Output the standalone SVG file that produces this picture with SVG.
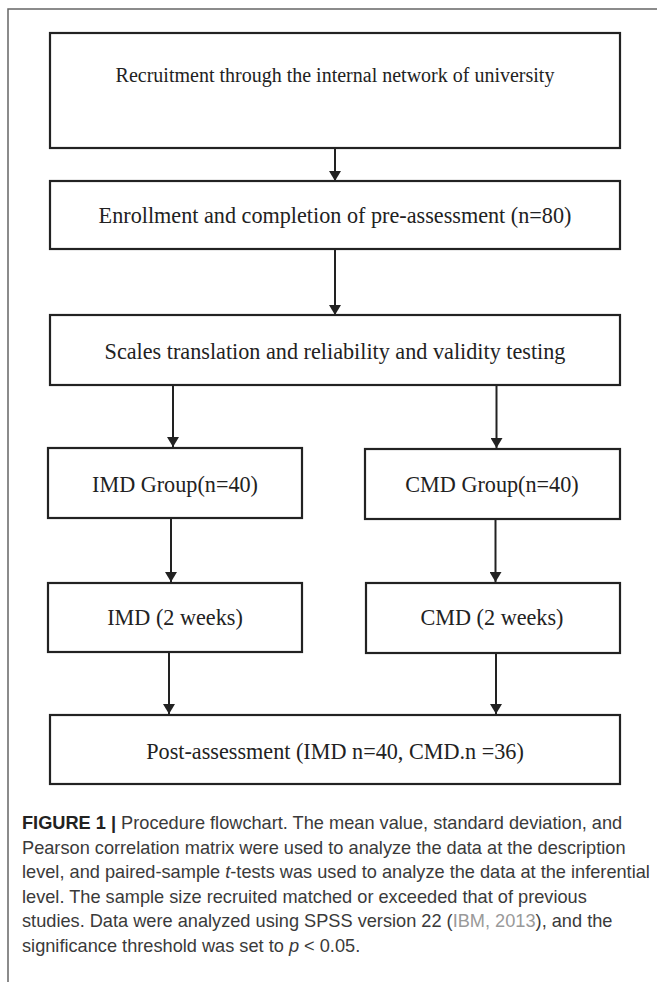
<svg xmlns="http://www.w3.org/2000/svg" width="657" height="982" viewBox="0 0 657 982">
<defs>
<style>
.box{fill:#fff;stroke:#222;stroke-width:2.2}
.lbl{font-family:"Liberation Serif","Times New Roman",serif;font-size:22.2px;fill:#222;text-anchor:middle}
.edge{stroke:#222;stroke-width:2;fill:none;marker-end:url(#ah)}
.cap{font-family:"Liberation Sans",Arial,sans-serif;font-size:18.2px;fill:#3a3a3a}
.frame{stroke:#666;stroke-width:1.5;fill:none}
</style>
<marker id="ah" viewBox="0 0 10 12" refX="10" refY="6" markerWidth="10" markerHeight="12" markerUnits="userSpaceOnUse" orient="auto">
<path d="M0,0 L10,6 L0,12 Z" fill="#222"/>
</marker>
</defs>
<rect width="657" height="982" fill="#fff"/>
<path class="frame" d="M657,9 H8 V982"/>
<g id="recruit"><rect class="box" x="50" y="33" width="570" height="115"/><text class="lbl" x="335" y="82" style="font-size:20px">Recruitment through the internal network of university</text></g>
<g id="enroll"><rect class="box" x="50" y="181" width="570" height="68"/><text class="lbl" x="335" y="223">Enrollment and completion of pre-assessment (n=80)</text></g>
<g id="scales"><rect class="box" x="50" y="315" width="570" height="70"/><text class="lbl" x="335" y="359">Scales translation and reliability and validity testing</text></g>
<g id="imdgroup"><rect class="box" x="48" y="448" width="254" height="70"/><text class="lbl" x="175" y="492">IMD Group(n=40)</text></g>
<g id="cmdgroup"><rect class="box" x="365" y="449" width="255" height="70"/><text class="lbl" x="492" y="492">CMD Group(n=40)</text></g>
<g id="imd2w"><rect class="box" x="48" y="583" width="254" height="69"/><text class="lbl" x="175" y="625">IMD (2 weeks)</text></g>
<g id="cmd2w"><rect class="box" x="366" y="583" width="254" height="70"/><text class="lbl" x="492" y="625">CMD (2 weeks)</text></g>
<g id="post"><rect class="box" x="50" y="715" width="570" height="69"/><text class="lbl" x="335" y="759">Post-assessment (IMD n=40, CMD.n =36)</text></g>
<g id="connectors">
<path class="edge" d="M335,149 V181"/>
<path class="edge" d="M335,250 V315"/>
<path class="edge" d="M173,386 V447"/>
<path class="edge" d="M496.5,386 V448"/>
<path class="edge" d="M171,519 V582"/>
<path class="edge" d="M495.5,520 V582"/>
<path class="edge" d="M169,653 V714"/>
<path class="edge" d="M496,654 V714"/>
</g>
<g id="caption" class="cap">
<text x="22" y="829"><tspan font-weight="bold" fill="#222">FIGURE 1 |</tspan> Procedure flowchart. The mean value, standard deviation, and</text>
<text x="22" y="853.6">Pearson correlation matrix were used to analyze the data at the description</text>
<text x="22" y="878.2">level, and paired-sample <tspan font-style="italic">t</tspan>-tests was used to analyze the data at the inferential</text>
<text x="22" y="902.8">level. The sample size recruited matched or exceeded that of previous</text>
<text x="22" y="927.4">studies. Data were analyzed using SPSS version 22 (<tspan fill="#999">IBM, 2013</tspan>), and the</text>
<text x="22" y="952">significance threshold was set to <tspan font-style="italic">p</tspan> &lt; 0.05.</text>
</g>
</svg>
